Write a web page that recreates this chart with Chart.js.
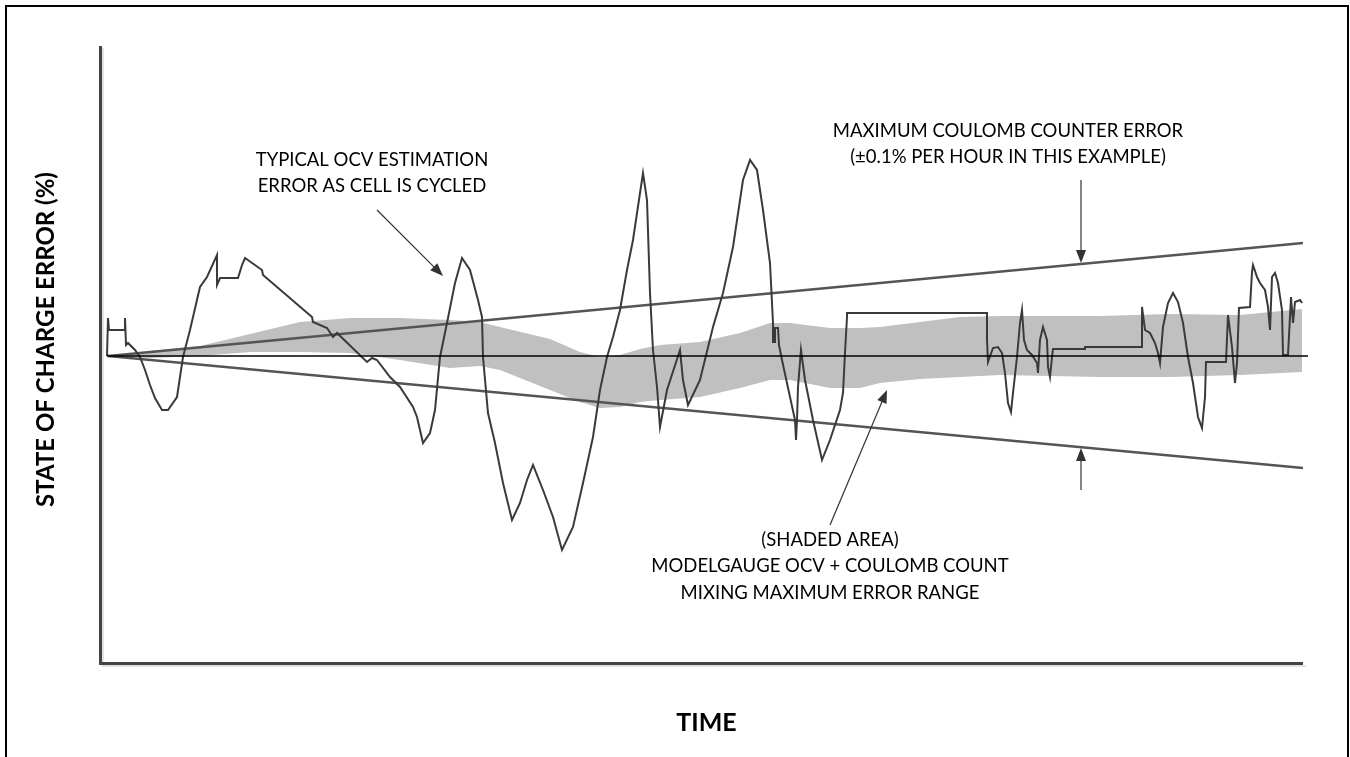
<!DOCTYPE html>
<html><head><meta charset="utf-8">
<script src="https://cdn.jsdelivr.net/npm/chart.js@4.4.0/dist/chart.umd.min.js"></script>
<style>html,body{margin:0;padding:0;background:#fff}#wrap{width:1350px;height:757px;position:relative}</style>
</head><body><div id="wrap"><canvas id="c"></canvas></div>
<script>
// ---- data (time in arbitrary units, SOC error in %) ----
const ocvTime = [0.7,0.8,0.9,2.5,2.5,2.6,2.8,3.5,4.0,4.5,5.0,5.5,6.2,6.8,7.7,8.3,9.0,10.0,10.7,11.7,11.7,12.0,13.8,14.2,14.5,16.2,16.3,21.2,21.3,22.7,23.3,23.7,26.7,27.2,27.7,29.0,30.0,31.3,31.7,32.3,33.0,33.5,34.0,34.7,35.5,36.2,37.0,37.8,38.2,38.3,38.8,39.5,40.3,41.2,42.0,42.7,43.3,44.3,45.3,46.2,47.3,48.3,49.3,50.0,50.7,51.3,52.0,52.7,53.3,54.3,54.7,55.0,55.3,55.7,56.0,56.7,58.0,58.3,58.8,60.0,61.3,62.3,63.3,64.3,65.0,65.7,66.3,67.0,67.3,67.3,67.5,67.5,67.8,67.9,68.2,69.0,69.5,69.6,69.7,69.8,70.1,70.5,71.3,72.2,73.0,74.0,74.3,74.5,74.7,74.7,88.7,88.7,88.8,89.3,89.8,90.2,90.5,90.8,91.1,91.3,91.7,92.0,92.2,92.4,92.7,93.2,93.7,93.8,94.0,94.3,94.7,94.8,95.0,95.2,95.3,98.5,98.5,104.2,104.2,104.5,105.0,105.5,105.8,106.0,106.3,106.8,107.3,107.8,108.3,108.8,109.3,109.8,110.2,110.5,110.6,112.6,112.8,113.2,113.5,113.7,113.9,115.0,115.2,115.3,115.7,116.0,116.5,116.8,117.0,117.2,117.5,117.8,118.2,118.3,118.8,119.1,119.3,119.5,120.0,120.2];
const ocvError = [0,3.8,2.6,2.6,3.8,1.1,1.3,0.6,-0.1,-1.4,-2.9,-4.2,-5.4,-5.4,-4.1,-0.1,2.6,6.9,7.9,10.1,7.1,7.8,7.8,9.1,9.8,8.6,8.1,3.9,3.4,2.8,1.9,2.3,-0.6,-0.2,-0.4,-2.1,-3.1,-5.1,-6.1,-8.7,-7.7,-5.4,-0.1,3.3,7.3,9.8,8.6,5.6,3.9,-0.1,-5.7,-8.7,-12.7,-16.4,-14.7,-12.4,-10.9,-13.4,-16.1,-19.4,-17.1,-12.7,-8.1,-3.4,-0.1,1.9,4.6,8.6,11.6,18.3,15.6,6.3,0.6,-3.1,-7.1,-3.4,0.6,-2.4,-4.9,-2.4,2.9,6.3,10.9,17.6,19.6,18.6,14.6,9.3,3.3,1.4,1.4,2.8,2.8,1.1,-0.4,-4.1,-6.4,-8.4,-6.4,-3.1,0.6,-2.4,-6.4,-10.4,-8.4,-5.4,-3.7,0.3,3.9,4.3,4.3,1.6,-0.6,0.8,0.9,0.3,-1.7,-4.7,-5.6,-3.7,-0.1,3.3,4.6,1.6,0.6,0.1,-0.7,-1.7,1.6,2.9,1.6,-1.1,-2.1,-0.1,0.7,0.7,0.9,0.9,4.9,2.6,2.3,1.3,0.3,-0.7,2.9,5.3,6.3,5.4,3.3,-0.1,-2.7,-6.1,-7.2,-4.1,-0.6,-0.6,4.1,0.9,-2.7,-0.7,4.8,4.9,8.4,9.1,7.9,7.3,6.6,4.9,2.6,7.9,8.3,7.3,4.6,0.1,0.1,5.9,3.3,5.4,5.6,5.3];

const bandTime  = [0.8,5,10,15,20,25,30,35,38,40,45,48,50,52,54,56,60,64,67,69,73,76,78,82,86,90,95,100,107,114,120.2];
const bandUpper = [0,0.5,1.0,2.2,3.4,3.8,3.8,3.6,3.4,2.9,1.7,0.4,-0.1,0.1,0.7,1.1,1.4,2.3,3.3,3.3,2.8,2.8,2.9,3.4,3.9,4.0,4.0,4.0,4.2,4.1,4.7];
const bandLower = [0,-0.2,0.0,0.4,0.4,0.3,-0.4,-1.2,-1.0,-1.4,-3.4,-4.6,-5.2,-5.1,-4.6,-4.4,-4.1,-3.2,-2.4,-2.4,-3.2,-3.2,-2.7,-2.3,-2.1,-1.9,-2.0,-2.1,-2.1,-1.9,-1.6];

const coulombTime  = [0.8, 120.3];
const coulombUpper = [0, 11.3];
const coulombLower = [0, -11.2];
const zeroTime  = [0.7, 120.8];
const zeroValue = [0, 0];

const xTitle = 'TIME';
const yTitle = 'STATE OF CHARGE ERROR (%)';
const noteOcv = ['TYPICAL OCV ESTIMATION', 'ERROR AS CELL IS CYCLED'];
const noteCoulomb = ['MAXIMUM COULOMB COUNTER ERROR', '(\u00B10.1% PER HOUR IN THIS EXAMPLE)'];
const noteBand = ['(SHADED AREA)', 'MODELGAUGE OCV + COULOMB COUNT', 'MIXING MAXIMUM ERROR RANGE'];

const pts = (xs, ys) => xs.map((x, i) => ({x, y: ys[i]}));

// annotation layout (data coordinates)
const notes = [
  {lines: noteOcv, x: 27.2, y: 19.6, step: 2.6},
  {lines: noteCoulomb, x: 90.8, y: 22.5, step: 2.65},
  {lines: noteBand, x: 73.0, y: -18.4, step: 2.65}
];
const arrows = [
  {from: [27.7, 14.6], to: [34.3, 8.0]},
  {from: [98.1, 17.6], to: [98.1, 9.3]},
  {from: [98.1, -13.4], to: [98.1, -9.2]},
  {from: [73.0, -16.9], to: [78.7, -3.4]}
];

const FONT = 'Lato, "Open Sans", sans-serif';

const decor = {
  id: 'decor',
  beforeDraw(chart) {
    const c = chart.ctx;
    c.save();
    c.fillStyle = '#fff';
    c.fillRect(0, 0, chart.width, chart.height);
    c.strokeStyle = '#000';
    c.lineWidth = 2;
    c.strokeRect(6, 6, chart.width - 8, chart.height + 20);
    c.restore();
  },
  afterDatasetsDraw(chart) {
    const c = chart.ctx, xs = chart.scales.x, ys = chart.scales.y, a = chart.chartArea;
    const X = v => xs.getPixelForValue(v), Y = v => ys.getPixelForValue(v);
    c.save();
    // axes
    const xEnd = X(120.3);
    c.lineCap = 'butt';
    c.strokeStyle = '#e2e2e2'; c.lineWidth = 2;
    c.beginPath(); c.moveTo(a.left + 3, a.top + 2); c.lineTo(a.left + 3, a.bottom + 3); c.lineTo(xEnd + 3, a.bottom + 3); c.stroke();
    c.strokeStyle = '#444'; c.lineWidth = 3;
    c.beginPath(); c.moveTo(a.left + 0.5, a.top); c.lineTo(a.left + 0.5, a.bottom + 0.5); c.lineTo(xEnd, a.bottom + 0.5); c.stroke();

    // arrows
    c.strokeStyle = '#333'; c.fillStyle = '#333'; c.lineWidth = 1.2;
    arrows.forEach(ar => {
      const x1 = X(ar.from[0]), y1 = Y(ar.from[1]), x2 = X(ar.to[0]), y2 = Y(ar.to[1]);
      const ang = Math.atan2(y2 - y1, x2 - x1), L = 13, W = 5;
      c.beginPath(); c.moveTo(x1, y1); c.lineTo(x2 - L * Math.cos(ang) * 0.8, y2 - L * Math.sin(ang) * 0.8); c.stroke();
      c.beginPath();
      c.moveTo(x2, y2);
      c.lineTo(x2 - L * Math.cos(ang) + W * Math.sin(ang), y2 - L * Math.sin(ang) - W * Math.cos(ang));
      c.lineTo(x2 - L * Math.cos(ang) - W * Math.sin(ang), y2 - L * Math.sin(ang) + W * Math.cos(ang));
      c.closePath(); c.fill();
    });

    // notes
    c.fillStyle = '#000';
    c.font = '18.5px ' + FONT;
    c.textAlign = 'center'; c.textBaseline = 'middle';
    notes.forEach(n => {
      n.lines.forEach((t, i) => c.fillText(t, X(n.x), Y(n.y - i * n.step)));
    });

    // titles
    c.font = 'bold 25px ' + FONT;
    c.fillText(xTitle, (a.left + xEnd) / 2 + 5, a.bottom + 60);
    c.font = 'bold 24px ' + FONT;
    c.translate(46, (a.top + a.bottom) / 2 - 15);
    c.rotate(-Math.PI / 2);
    c.fillText(yTitle, 0, 0);
    c.restore();
  }
};

new Chart(document.getElementById('c'), {
  type: 'line',
  data: {
    datasets: [
      {data: pts(zeroTime, zeroValue), borderColor: '#000', borderWidth: 1.5, order: 1, clip: false},
      {data: pts(ocvTime, ocvError), borderColor: '#3a3a3a', borderWidth: 2, order: 2, clip: false},
      {data: pts(coulombTime, coulombUpper), borderColor: '#555', borderWidth: 2.5, order: 5},
      {data: pts(coulombTime, coulombLower), borderColor: '#555', borderWidth: 2.5, order: 5},
      {data: pts(bandTime, bandUpper), borderWidth: 0, borderColor: 'rgba(0,0,0,0)', backgroundColor: '#c0c0c0', fill: '+1', order: 10},
      {data: pts(bandTime, bandLower), borderWidth: 0, borderColor: 'rgba(0,0,0,0)', backgroundColor: '#c0c0c0', fill: false, order: 11}
    ]
  },
  options: {
    responsive: true,
    maintainAspectRatio: false,
    animation: false,
    events: [],
    layout: {padding: {left: 100, right: 42, top: 46, bottom: 94}},
    elements: {point: {radius: 0}, line: {tension: 0}},
    plugins: {legend: {display: false}, tooltip: {enabled: false}, title: {display: false}},
    scales: {
      x: {type: 'linear', display: false, min: 0, max: 120.8},
      y: {type: 'linear', display: false, min: -30.7, max: 31.0}
    }
  },
  plugins: [decor]
});
</script>
</body></html>
